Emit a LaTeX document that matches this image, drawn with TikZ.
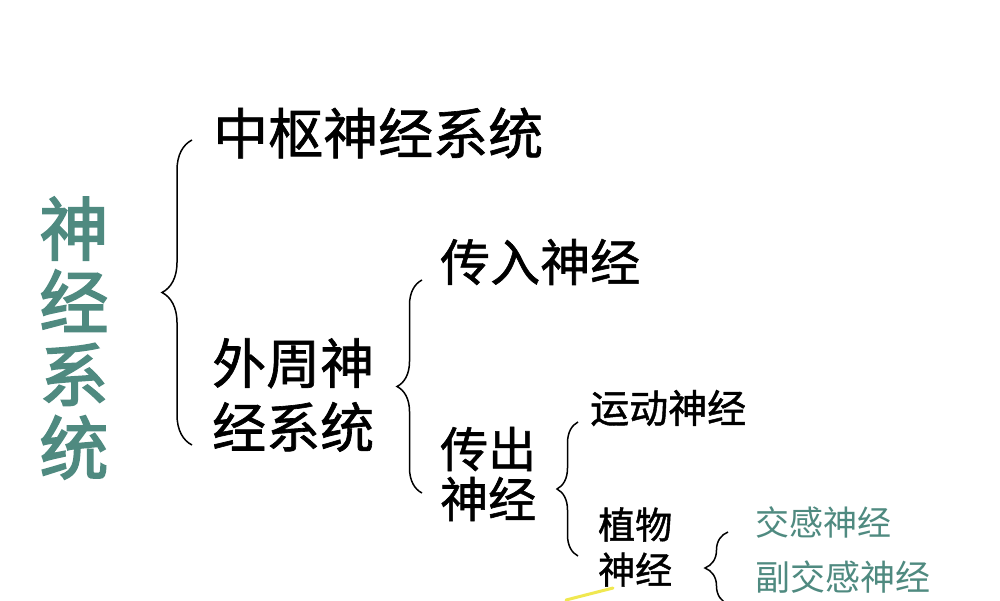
\documentclass[tikz,border=0pt]{standalone}
\usepackage{fontspec}
\setmainfont{Noto Sans CJK SC}
\newfontfamily\heiti[FakeBold=1.2]{Noto Sans CJK SC}
\newfontfamily\titelfont[FakeBold=2.5]{Noto Sans CJK SC}
\usetikzlibrary{decorations.pathreplacing}

\definecolor{nervegreen}{RGB}{79,138,128}
\definecolor{marker}{RGB}{240,232,80}

\begin{document}
\begin{tikzpicture}[x=1pt,y=-1pt]
\tikzstyle{item}=[anchor=west,inner sep=0pt,align=left,text=black]
\tikzstyle{sub}=[item,text=nervegreen]
\tikzstyle{kuo}=[decorate,decoration={brace,amplitude=#1},line width=1.5pt]

\useasboundingbox[fill=white] (0,0) rectangle (1000,600);

% main title, vertical
\node[inner sep=0pt,align=center,text=nervegreen,
  font=\titelfont\fontsize{69}{73}\selectfont] (nerv) at (74,338) {神\\经\\系\\统};

\node[item,font=\heiti\fontsize{55}{64}\selectfont] (zentral) at (213,133) {中枢神经系统};
\node[item,font=\heiti\fontsize{54}{64}\selectfont] (peri) at (212,395) {外周神\\经系统};

\node[item,font=\heiti\fontsize{50}{56}\selectfont] (affer) at (440,262) {传入神经};
\node[item,font=\heiti\fontsize{48}{50}\selectfont] (effer) at (440,474) {传出\\神经};

\node[item,font=\heiti\fontsize{39}{44}\selectfont] (motor) at (590,408) {运动神经};
\node[item,font=\heiti\fontsize{37}{45}\selectfont] (vege) at (598,547) {植物\\神经};

\node[sub,font=\fontsize{34}{40}\selectfont] (symp) at (755,522) {交感神经};
\node[sub,font=\fontsize{35}{40}\selectfont] (parasymp) at (755,577) {副交感神经};

% braces
\draw[kuo=30pt] (192,445) -- (192,140);
\draw[kuo=25pt] (422,493) -- (422,280);
\draw[kuo=21pt] (578,556) -- (578,422);
\draw[kuo=23pt] (728,604) -- (728,532);

\draw[marker,line width=3pt,line cap=round] (566,600) -- (613,588);

\end{tikzpicture}
\end{document}
